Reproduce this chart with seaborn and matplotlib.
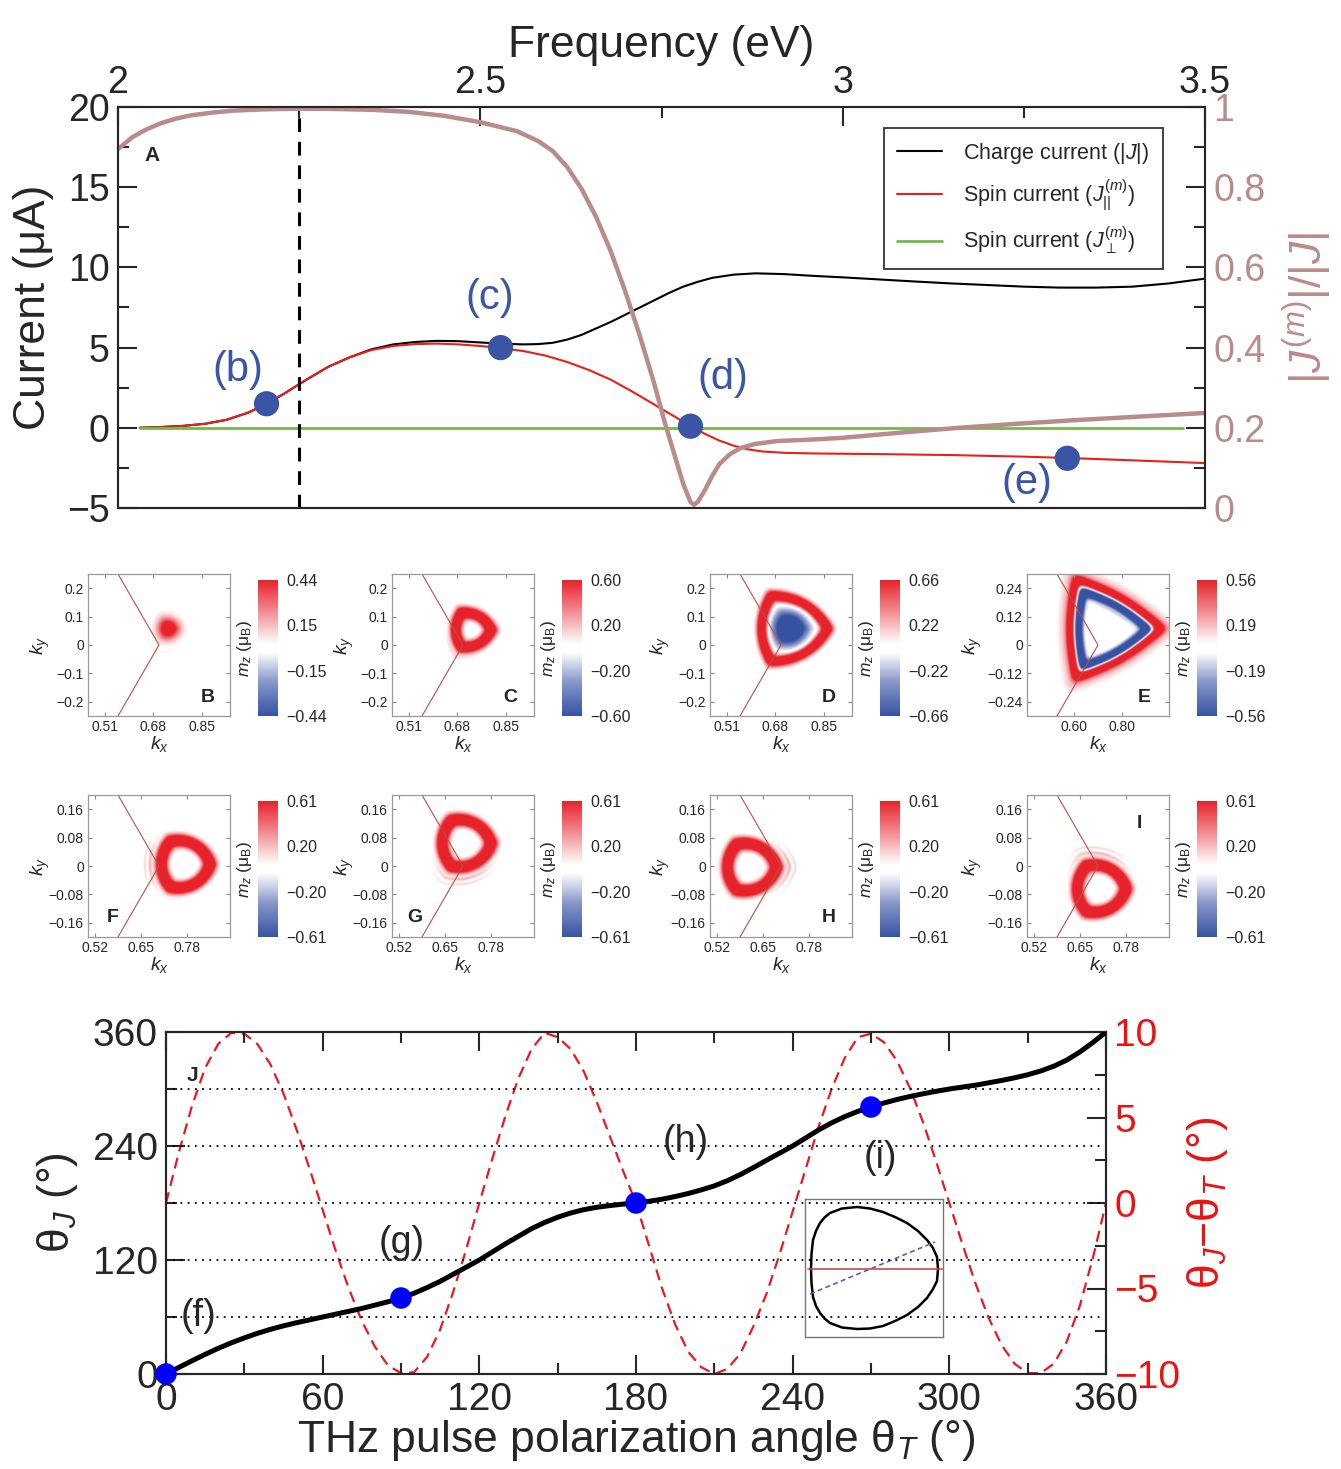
import numpy as np
import matplotlib
matplotlib.use("Agg")
import matplotlib.pyplot as plt
import seaborn as sns
from matplotlib.colors import LinearSegmentedColormap
from matplotlib.ticker import MultipleLocator

sns.set_style("ticks")
plt.rcParams["font.family"] = ["Liberation Sans", "DejaVu Sans"]
plt.rcParams["mathtext.fontset"] = "custom"
plt.rcParams["mathtext.rm"] = "Liberation Sans"
plt.rcParams["mathtext.it"] = "Liberation Sans:italic"
plt.rcParams["mathtext.bf"] = "Liberation Sans:bold"
plt.rcParams["axes.linewidth"] = 1.5

# ---------------- Panel A data ----------------
freq_charge = [2.03, 2.06, 2.09, 2.12, 2.15, 2.18, 2.205, 2.23, 2.26, 2.29, 2.32, 2.35, 2.38,
               2.41, 2.44, 2.47, 2.50, 2.53, 2.56, 2.58, 2.60, 2.62, 2.64, 2.66, 2.68, 2.70,
               2.72, 2.74, 2.76, 2.78, 2.80, 2.82, 2.85, 2.88, 2.92, 2.96, 3.00, 3.05, 3.10,
               3.15, 3.20, 3.25, 3.30, 3.35, 3.40, 3.45, 3.50]
charge_current = [0.0, 0.05, 0.12, 0.25, 0.5, 0.95, 1.5, 2.15, 3.0, 3.8, 4.4, 4.9, 5.2,
                  5.35, 5.42, 5.4, 5.32, 5.24, 5.2, 5.22, 5.3, 5.5, 5.8, 6.2, 6.6, 7.05,
                  7.5, 7.95, 8.4, 8.8, 9.1, 9.35, 9.55, 9.63, 9.58, 9.47, 9.38, 9.25, 9.12,
                  9.0, 8.9, 8.8, 8.74, 8.74, 8.8, 9.0, 9.3]
freq_spin = [2.03, 2.06, 2.09, 2.12, 2.15, 2.18, 2.205, 2.23, 2.26, 2.29, 2.32, 2.35, 2.38,
             2.41, 2.44, 2.47, 2.50, 2.528, 2.56, 2.59, 2.62, 2.65, 2.68, 2.71, 2.74, 2.77,
             2.79, 2.81, 2.83, 2.85, 2.87, 2.89, 2.92, 2.96, 3.05, 3.15, 3.25, 3.31, 3.40, 3.50]
spin_par = [0.0, 0.05, 0.12, 0.25, 0.5, 0.95, 1.5, 2.15, 3.0, 3.8, 4.4, 4.85, 5.1,
            5.22, 5.25, 5.2, 5.1, 4.97, 4.78, 4.5, 4.1, 3.6, 3.0, 2.25, 1.45, 0.65,
            0.1, -0.38, -0.8, -1.12, -1.35, -1.48, -1.56, -1.6, -1.64, -1.7, -1.8, -1.88, -2.03, -2.2]
freq_perp = [2.03, 3.47]
spin_perp = [0.0, 0.0]
freq_ratio = [2.0, 2.02, 2.04, 2.06, 2.08, 2.10, 2.13, 2.16, 2.20, 2.25, 2.30, 2.35, 2.40, 2.45,
              2.50, 2.55, 2.58, 2.60, 2.62, 2.64, 2.66, 2.68, 2.70, 2.72, 2.74, 2.755, 2.77,
              2.78, 2.79, 2.795, 2.80, 2.81, 2.82, 2.83, 2.845, 2.86, 2.88, 2.91, 2.95, 3.0,
              3.08, 3.16, 3.24, 3.32, 3.40, 3.5]
ratio = [0.895, 0.925, 0.945, 0.96, 0.971, 0.979, 0.986, 0.991, 0.994, 0.996, 0.995, 0.993,
         0.988, 0.978, 0.962, 0.94, 0.915, 0.89, 0.85, 0.795, 0.725, 0.64, 0.54, 0.43, 0.31,
         0.21, 0.12, 0.06, 0.015, 0.008, 0.015, 0.045, 0.08, 0.11, 0.135, 0.15, 0.16, 0.167,
         0.17, 0.175, 0.188, 0.2, 0.21, 0.219, 0.227, 0.237]
pts_freq = [2.205, 2.528, 2.79, 3.31]
pts_current = [1.5, 5.0, 0.1, -1.9]
pts_labels = ["(b)", "(c)", "(d)", "(e)"]
lbl_freq = [2.166, 2.513, 2.835, 3.254]
lbl_current = [3.6, 8.1, 3.1, -3.45]
freq_ticks = [2, 2.5, 3, 3.5]
freq_ticklabels = ["2", "2.5", "3", "3.5"]
marked_freq = 2.25

# ---------------- Panel J data ----------------
thetaT_black = list(range(0, 361, 5))
thetaJ_black = [0, 7, 14, 20.7, 27, 32.8, 38, 42.8, 47, 50.7, 54, 57, 60, 63, 66, 69, 72.5, 76,
                80, 85, 91, 97.5, 105, 112.5, 120, 128.5, 137, 145, 153, 159.5, 165, 169.5,
                173, 175.5, 177.3, 178.8, 180, 181.8, 184, 186.8, 190, 193.8, 198, 203.5, 210,
                217.3, 225, 232.5, 240, 248.5, 257, 264.5, 271, 276.5, 281, 285.3, 289, 292.2,
                295, 297.6, 300, 302, 304, 306.5, 309, 311.8, 315, 319, 324, 330.5, 339, 349, 360]
thetaT_red = list(range(0, 361, 5))
dtheta_red = [0, 3.0, 5.7, 7.9, 9.3, 9.95, 9.9,
              9.3, 8.1, 6.4, 4.3, 2.0, -0.4, -2.8, -5.0, -6.9, -8.4, -9.5, -9.95, -9.9,
              -9.0, -7.4, -5.2, -2.7, 0.0, 2.6, 5.1, 7.3, 9.0, 9.95,
              9.7, 9.0, 7.7, 5.9, 3.9, 1.9, 0.0, -2.5, -5.0, -7.1, -8.7, -9.6, -10.0, -9.7,
              -8.8, -7.2, -5.3, -3.0, -0.5, 2.0, 4.5, 6.7, 8.5, 9.7, 9.9, 9.4,
              8.3, 6.7, 4.7, 2.4, 0.0, -2.4, -4.7, -6.7, -8.3, -9.4, -9.95, -9.95, -9.4,
              -8.1, -6.0, -3.2, 0.0]
ptsJ_T = [0, 90, 180, 270]
ptsJ_J = [0, 80, 180, 281]
lblJ_text = ["(f)", "(g)", "(h)", "(i)"]
lblJ_T = [12.3, 90.4, 199, 273.5]
lblJ_J = [61, 138, 244, 227]
gridJ = [60, 120, 180, 240, 300]

# inset contour (inset pixel units)
inset_x = [6, 6.5, 8, 11, 15, 19.5, 25, 37, 52, 65, 78, 90, 102, 113, 122, 128, 132, 133,
           132, 128, 122, 113, 102, 90, 78, 65, 52, 37, 25, 19.5, 15, 11, 8, 6.5, 6]
inset_y = [68, 83, 97, 106, 114, 119.5, 124, 128.5, 130, 128.5, 125, 120, 114, 106, 97, 89, 80, 68,
           56, 48, 39, 30, 22, 16, 11, 8.5, 8, 9.5, 14, 18.5, 24, 31, 40, 54, 68]
inset_red_x = [3, 137]
inset_red_y = [68, 68]
inset_blue_x = [5, 130]
inset_blue_y = [43, 95]

# ---------------- Momentum maps ----------------
letters = ["B", "C", "D", "E", "F", "G", "H", "I"]
cbar_max = [0.44, 0.60, 0.66, 0.56, 0.61, 0.61, 0.61, 0.61]
cbar_ticklabels = [["0.44", "0.15", "\u22120.15", "\u22120.44"],
                   ["0.60", "0.20", "\u22120.20", "\u22120.60"],
                   ["0.66", "0.22", "\u22120.22", "\u22120.66"],
                   ["0.56", "0.19", "\u22120.19", "\u22120.56"]] + \
                  [["0.61", "0.20", "\u22120.20", "\u22120.61"]] * 4
kx_lims = [(0.45, 0.95)] * 3 + [(0.40, 1.00)] + [(0.50, 0.90)] * 4
ky_lims = [(-0.25, 0.25)] * 3 + [(-0.30, 0.30)] + [(-0.20, 0.20)] * 4
kx_ticks = [[0.51, 0.68, 0.85]] * 3 + [[0.60, 0.80]] + [[0.52, 0.65, 0.78]] * 4
kx_ticklabels = [["0.51", "0.68", "0.85"]] * 3 + [["0.60", "0.80"]] + [["0.52", "0.65", "0.78"]] * 4
ky_ticks = [[-0.2, -0.1, 0, 0.1, 0.2]] * 3 + [[-0.24, -0.12, 0, 0.12, 0.24]] + \
           [[-0.16, -0.08, 0, 0.08, 0.16]] * 4
ky_ticklabels = [["\u22120.2", "\u22120.1", "0", "0.1", "0.2"]] * 3 + \
                [["\u22120.24", "\u22120.12", "0", "0.12", "0.24"]] + \
                [["\u22120.16", "\u22120.08", "0", "0.08", "0.16"]] * 4
letter_pos = [(0.845, 0.13), (0.83, 0.13), (0.838, 0.13), (0.824, 0.13),
              (0.176, 0.134), (0.162, 0.134), (0.838, 0.134), (0.789, 0.80)]
ky_label_x = [-0.25, -0.25, -0.27, -0.30, -0.25, -0.25, -0.27, -0.30]
K_point = 0.70
# components: (cx, cy, d, beta, sigma, amp (x cbar max), power, arc_dir, arc_pow)
components = [
    [(0.733, 0.058, 0.0, 0.8, 0.036, 1.5, 2, None, 0),
     (0.725, 0.045, 0.066, 0.7, 0.006, 0.12, 2, 250, 2)],
    [(0.730, 0.053, 0.055, 0.6, 0.019, 1.9, 2, None, 0),
     (0.730, 0.053, 0.090, 0.6, 0.005, 0.15, 2, 235, 3)],
    [(0.732, 0.058, 0.100, 0.5, 0.017, 1.8, 2, None, 0),
     (0.730, 0.058, 0.0, 0.7, 0.056, -1.6, 3, None, 0)],
    [(0.728, 0.070, 0.145, 0.2, 0.016, 1.6, 2, None, 0),
     (0.728, 0.070, 0.165, 0.2, 0.030, 0.35, 2, None, 0),
     (0.728, 0.068, 0.110, 0.2, 0.016, -2.0, 2, None, 0),
     (0.728, 0.068, 0.080, 0.2, 0.006, -0.2, 2, 60, 2)],
    [(0.770, 0.005, 0.063, 0.7, 0.016, 2.0, 2, None, 0),
     (0.770, 0.005, 0.096, 0.7, 0.0045, 0.35, 2, 180, 4),
     (0.770, 0.005, 0.110, 0.7, 0.0045, 0.22, 2, 180, 4)],
    [(0.705, 0.064, 0.063, 0.7, 0.016, 2.0, 2, None, 0),
     (0.705, 0.064, 0.096, 0.7, 0.0045, 0.35, 2, 270, 2),
     (0.705, 0.064, 0.110, 0.7, 0.0045, 0.22, 2, 270, 2)],
    [(0.612, -0.003, 0.063, 0.7, 0.016, 2.0, 2, None, 0),
     (0.612, -0.003, 0.096, 0.7, 0.0045, 0.35, 2, 0, 4),
     (0.612, -0.003, 0.110, 0.7, 0.0045, 0.22, 2, 0, 4)],
    [(0.705, -0.064, 0.063, 0.7, 0.016, 2.0, 2, None, 0),
     (0.705, -0.064, 0.096, 0.7, 0.0045, 0.35, 2, 90, 2),
     (0.705, -0.064, 0.110, 0.7, 0.0045, 0.22, 2, 90, 2)],
]

# ---------------- helpers ----------------
W, H = 1341, 1469


def rect(x0, y0, x1, y1):
    return [x0 / W, 1 - y1 / H, (x1 - x0) / W, (y1 - y0) / H]


def tri_rho(KX, KY, cx, cy, beta):
    dx, dy = KX - cx, KY - cy
    r = np.hypot(dx, dy)
    phi = np.arctan2(dy, dx)
    h = np.zeros_like(r)
    for a in np.deg2rad([60, 180, 300]):
        h = h + np.clip(np.cos(phi - a), 0, None) ** 8
    h = h ** (1 / 8)
    return r * (beta + (1 - beta) * h), phi


def mz_map(comps, xl, yl, vmax, n=360):
    kx = np.linspace(xl[0], xl[1], n)
    ky = np.linspace(yl[0], yl[1], n)
    KX, KY = np.meshgrid(kx, ky)
    Z = np.zeros_like(KX)
    for (cx, cy, d, beta, sig, amp, pw, adir, apow) in comps:
        rho, phi = tri_rho(KX, KY, cx, cy, beta)
        val = amp * vmax * np.exp(-(np.abs(rho - d) / sig) ** pw)
        if adir is not None:
            val = val * np.clip(np.cos(phi - np.deg2rad(adir)), 0, None) ** apow
        Z += val
    return Z


cmap = LinearSegmentedColormap.from_list(
    "mz", [(0, "#3653a3"), (0.25, "#8896c8"), (0.47, "#ffffff"), (0.53, "#ffffff"),
           (0.75, "#f2959a"), (1, "#e8222a")])

pink = "#b98b8b"
blueA = "#3a55a5"

fig = plt.figure(figsize=(13.41, 14.69), dpi=100)

# ================= Panel A =================
axA = fig.add_axes(rect(118, 107, 1205, 508))
axR = axA.twinx()
sns.lineplot(x=freq_charge, y=charge_current, ax=axA, color="black", linewidth=1.5,
             estimator=None, sort=False)
h_black = axA.lines[-1]
sns.lineplot(x=freq_spin, y=spin_par, ax=axA, color="#e8201c", linewidth=1.5,
             estimator=None, sort=False)
h_red = axA.lines[-1]
sns.lineplot(x=freq_perp, y=spin_perp, ax=axA, color="#76b84a", linewidth=2,
             estimator=None, sort=False)
h_green = axA.lines[-1]
axA.axvline(marked_freq, color="black", linewidth=2.2, linestyle=(0, (4.5, 3.2)))
sns.scatterplot(x=pts_freq, y=pts_current, ax=axA, s=330, color=blueA, edgecolor="none",
                zorder=6)
for t, x, y in zip(pts_labels, lbl_freq, lbl_current):
    axA.text(x, y, t, color=blueA, fontsize=30, ha="center", va="center", zorder=7)
sns.lineplot(x=freq_ratio, y=ratio, ax=axR, color=pink, linewidth=3.2,
             estimator=None, sort=False)

axA.set_xlim(2, 3.5)
axA.set_ylim(-5, 20)
axR.set_ylim(0, 1)
axA.xaxis.tick_top()
axA.xaxis.set_label_position("top")
axA.set_xticks(freq_ticks)
axA.set_xticklabels(freq_ticklabels)
axA.xaxis.set_minor_locator(MultipleLocator(0.25))
axA.tick_params(axis="x", which="both", direction="in", top=True, bottom=False,
                labeltop=True, labelbottom=False, labelsize=27, pad=4)
axA.tick_params(axis="x", which="major", length=14, width=1.5)
axA.tick_params(axis="x", which="minor", length=8, width=1.5)
axA.set_yticks([-5, 0, 5, 10, 15, 20])
axA.yaxis.set_minor_locator(MultipleLocator(2.5))
axA.tick_params(axis="y", which="both", direction="in", left=True, right=False,
                labelsize=27, pad=6)
axA.tick_params(axis="y", which="major", length=14, width=1.5)
axA.tick_params(axis="y", which="minor", length=8, width=1.5)
axR.set_yticks([0, 0.2, 0.4, 0.6, 0.8, 1.0])
axR.set_yticklabels(["0", "0.2", "0.4", "0.6", "0.8", "1"])
axR.yaxis.set_minor_locator(MultipleLocator(0.1))
axR.tick_params(axis="y", which="both", direction="in", labelsize=27, labelcolor=pink, pad=6)
axR.tick_params(axis="y", which="major", length=14, width=1.5)
axR.tick_params(axis="y", which="minor", length=8, width=1.5)
axA.set_xlabel("Frequency (eV)", fontsize=32, labelpad=6)
axA.set_ylabel("Current (\u03bcA)", fontsize=32, labelpad=9)
axR.set_ylabel("|$J^{(m)}$|/|$J$|", fontsize=32, color=pink, labelpad=11)
axA.text(0.031, 0.88, "A", transform=axA.transAxes, fontsize=15, fontweight="bold",
         ha="center", va="center")
leg = axA.legend([h_black, h_red, h_green],
                 ["Charge current (|$J$|)", "Spin current ($J_{||}^{(m)}$)",
                  "Spin current ($J_{\\perp}^{(m)}$)"],
                 loc="upper right", bbox_to_anchor=(0.961, 0.948), borderaxespad=0,
                 fontsize=15.5, frameon=True, fancybox=False, edgecolor="black",
                 handlelength=2.1, labelspacing=0.55, borderpad=0.6, handletextpad=1.0)
leg.get_frame().set_linewidth(1.3)
leg.set_zorder(10)

# ================= Momentum maps =================
ax_lefts = [88, 392, 710, 1027]
cb_lefts = [258, 562, 880, 1197]
rows = [(574, 716, 580, 716), (795, 937, 801, 937)]
for i in range(8):
    r, c = divmod(i, 4)
    y0, y1, cy0, cy1 = rows[r]
    ax = fig.add_axes(rect(ax_lefts[c], y0, ax_lefts[c] + 142, y1))
    vmax = cbar_max[i]
    xl, yl = kx_lims[i], ky_lims[i]
    Z = mz_map(components[i], xl, yl, vmax)
    im = ax.imshow(Z, extent=(xl[0], xl[1], yl[0], yl[1]), origin="lower", cmap=cmap,
                   vmin=-vmax, vmax=vmax, interpolation="bilinear", aspect="auto")
    # Brillouin zone edges meeting at K
    ext = 0.4
    bz_x = [K_point - ext / np.tan(np.deg2rad(60)), K_point, K_point - ext / np.tan(np.deg2rad(60))]
    bz_y = [ext, 0, -ext]
    sns.lineplot(x=bz_x, y=bz_y, ax=ax, color="#b4514c", linewidth=0.8, estimator=None,
                 sort=False)
    ax.set_xlim(*xl)
    ax.set_ylim(*yl)
    ax.set_xticks(kx_ticks[i])
    ax.set_xticklabels(kx_ticklabels[i])
    ax.set_yticks(ky_ticks[i])
    ax.set_yticklabels(ky_ticklabels[i])
    ax.tick_params(which="both", direction="in", length=3, width=0.8, color="#888888",
                   labelsize=10, pad=3, top=True, right=True)
    for sp in ax.spines.values():
        sp.set_color("#999999")
        sp.set_linewidth(0.9)
    ax.set_xlabel("$k_x$", fontsize=14, labelpad=0)
    ax.set_ylabel("$k_y$", fontsize=14)
    ax.yaxis.set_label_coords(ky_label_x[i], 0.5)
    ax.text(letter_pos[i][0], letter_pos[i][1], letters[i], transform=ax.transAxes,
            fontsize=14, fontweight="bold", ha="center", va="center")
    cax = fig.add_axes(rect(cb_lefts[c], cy0, cb_lefts[c] + 20, cy1))
    cb = fig.colorbar(im, cax=cax, ticks=[vmax, vmax / 3, -vmax / 3, -vmax])
    cb.ax.set_yticklabels(cbar_ticklabels[i])
    cb.ax.tick_params(length=0, labelsize=11.5, pad=6)
    cb.outline.set_visible(False)
    cb.ax.yaxis.set_label_position("left")
    cb.ax.set_ylabel("$m_z$ (\u03bc$_\\mathrm{B}$)", fontsize=12.5, labelpad=3)

# ================= Panel J =================
axJ = fig.add_axes(rect(166, 1032, 1106, 1374))
axJR = axJ.twinx()
for g in gridJ:
    axJ.axhline(g, color="black", linestyle=(0, (1, 3)), linewidth=1.3, xmax=0.995, zorder=1)
sns.lineplot(x=thetaT_red, y=dtheta_red, ax=axJR, color="#e8191f", linewidth=1.6,
             estimator=None, sort=False, linestyle=(0, (5, 3)))
sns.lineplot(x=thetaT_black, y=thetaJ_black, ax=axJ, color="black", linewidth=3.6,
             estimator=None, sort=False, zorder=3)
sns.scatterplot(x=ptsJ_T, y=ptsJ_J, ax=axJ, s=240, color="#0000ff", edgecolor="none",
                zorder=5, clip_on=False)
for t, x, y in zip(lblJ_text, lblJ_T, lblJ_J):
    axJ.text(x, y, t, fontsize=27, ha="center", va="center", zorder=6)
axJ.text(0.028, 0.874, "J", transform=axJ.transAxes, fontsize=15, fontweight="bold",
         ha="center", va="center")
axJ.set_xlim(0, 360)
axJ.set_ylim(0, 360)
axJR.set_ylim(-10, 10)
axJ.set_xticks(range(0, 361, 60))
axJ.xaxis.set_minor_locator(MultipleLocator(30))
axJ.set_yticks([0, 120, 240, 360])
axJ.yaxis.set_minor_locator(MultipleLocator(60))
axJ.tick_params(which="both", direction="in", top=True, labelsize=28, width=1.5, pad=6)
axJ.tick_params(which="major", length=14)
axJ.tick_params(which="minor", length=8)
axJR.set_yticks([-10, -5, 0, 5, 10])
axJR.yaxis.set_minor_locator(MultipleLocator(2.5))
axJR.tick_params(axis="y", which="both", direction="in", labelsize=28, labelcolor="#ee1111",
                 width=1.5, pad=6)
axJR.tick_params(axis="y", which="major", length=14)
axJR.tick_params(axis="y", which="minor", length=8)
axJ.set_xlabel("THz pulse polarization angle \u03b8$_T$ (\u00b0)", fontsize=32, labelpad=0)
axJ.set_ylabel("\u03b8$_J$ (\u00b0)", fontsize=32, labelpad=9)
axJR.set_ylabel("\u03b8$_J$\u2212\u03b8$_T$ (\u00b0)", fontsize=32, color="#ee1111", labelpad=3)
axJ.set_zorder(axJR.get_zorder() + 1)
axJ.patch.set_visible(False)

# inset
axI = fig.add_axes(rect(805, 1199, 943, 1337))
sns.lineplot(x=inset_x, y=inset_y, ax=axI, color="black", linewidth=1.8, estimator=None,
             sort=False)
sns.lineplot(x=inset_red_x, y=inset_red_y, ax=axI, color="#d04848", linewidth=1.2,
             estimator=None, sort=False)
sns.lineplot(x=inset_blue_x, y=inset_blue_y, ax=axI, color="#5a5ad0", linewidth=1.2,
             estimator=None, sort=False, linestyle=(0, (3, 2)))
axI.set_xlim(0, 138)
axI.set_ylim(0, 138)
axI.set_xticks([])
axI.set_yticks([])
for sp in axI.spines.values():
    sp.set_color("#777777")
    sp.set_linewidth(1.0)

fig.savefig("out.png", dpi=100)
